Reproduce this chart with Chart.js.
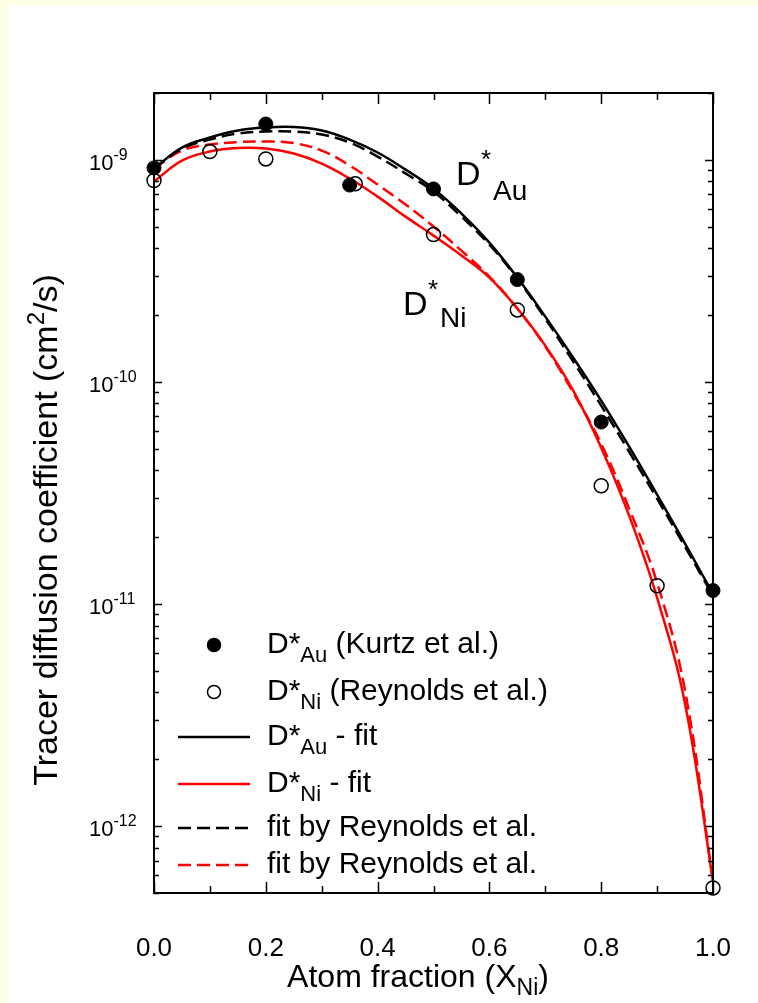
<!DOCTYPE html>
<html>
<head>
<meta charset="utf-8">
<title>Tracer diffusion coefficients in Au–Ni</title>
<script src="https://cdn.jsdelivr.net/npm/chart.js@4.4.1/dist/chart.umd.min.js"></script>
<style>
  html, body { margin: 0; padding: 0; background: #ffffff; }
  canvas { display: block; }
</style>
</head>
<body>
<canvas id="chart" width="758" height="1003"></canvas>
<script>
// ---- data ---------------------------------------------------------------
// measured tracer diffusion coefficients (cm^2/s) vs atom fraction X_Ni
const auKurtzX = [0.0, 0.2, 0.35, 0.5, 0.65, 0.8, 1.0];
const auKurtzD = [9.2e-10, 1.45e-9, 7.7e-10, 7.4e-10, 2.89e-10, 6.6e-11, 1.15e-11];

const niReynoldsX = [0.0, 0.1, 0.2, 0.36, 0.5, 0.65, 0.8, 0.9, 1.0];
const niReynoldsD = [8.07e-10, 1.09e-9, 1.01e-9, 7.8e-10, 4.61e-10, 2.11e-10, 3.41e-11, 1.21e-11, 5.27e-13];

// fitted curves, sampled every 0.05 in X_Ni
const fitX = [0.0, 0.05, 0.1, 0.15, 0.2, 0.25, 0.3, 0.35, 0.4, 0.45, 0.5,
              0.55, 0.6, 0.65, 0.7, 0.75, 0.8, 0.85, 0.9, 0.95, 1.0];
const auFit = [9.14e-10, 1.136e-9, 1.26e-9, 1.355e-9, 1.398e-9, 1.405e-9, 1.355e-9, 1.234e-9, 1.079e-9, 9.04e-10, 7.42e-10,
               5.73e-10, 4.24e-10, 2.95e-10, 1.968e-10, 1.286e-10, 8.24e-11, 5.11e-11, 3.11e-11, 1.869e-11, 1.112e-11];
const niFit = [7.99e-10, 9.93e-10, 1.09e-9, 1.13e-9, 1.124e-9, 1.068e-9, 9.62e-10, 8.24e-10, 6.83e-10, 5.55e-10, 4.56e-10,
               3.71e-10, 2.95e-10, 2.14e-10, 1.457e-10, 9.14e-11, 5.06e-11, 2.5e-11, 1.068e-11, 3.56e-12, 5.67e-13];
const auFitReynolds = [9.14e-10, 1.124e-9, 1.234e-9, 1.314e-9, 1.341e-9, 1.341e-9, 1.301e-9, 1.196e-9, 1.035e-9, 8.68e-10, 7.2e-10,
                       5.55e-10, 4.15e-10, 2.92e-10, 1.928e-10, 1.234e-10, 7.82e-11, 4.85e-11, 2.98e-11, 1.81e-11, 1.09e-11];
const niFitReynolds = [9.14e-10, 1.101e-9, 1.172e-9, 1.203e-9, 1.209e-9, 1.19e-9, 1.101e-9, 9.43e-10, 7.74e-10, 6.29e-10, 5.01e-10,
                       3.9e-10, 2.98e-10, 2.14e-10, 1.442e-10, 8.95e-11, 5.27e-11, 2.69e-11, 1.247e-11, 4.07e-12, 5.67e-13];

// axis ticks
const xTickValues = [0.0, 0.2, 0.4, 0.6, 0.8, 1.0];
const xTickLabels = ['0.0', '0.2', '0.4', '0.6', '0.8', '1.0'];
const yDecadeExponents = [-9, -10, -11, -12];

// ---- styling ----------------------------------------------------------------
const FONT = '"Liberation Sans", Arial, Helvetica, sans-serif';
const RED = '#ff0000';
const BLACK = '#000000';
const DASH = [13, 6];

const toPoints = (xs, ys) => xs.map((x, i) => ({ x: x, y: ys[i] }));

// text runs made of pieces: [text, fontSize, baselineShift]
function richWidth(ctx, parts) {
  let w = 0;
  parts.forEach(p => { ctx.font = p[1] + 'px ' + FONT; w += ctx.measureText(p[0]).width; });
  return w;
}
function drawRich(ctx, x, y, parts, align) {
  let cx = align === 'center' ? x - richWidth(ctx, parts) / 2 : x;
  parts.forEach(p => {
    ctx.font = p[1] + 'px ' + FONT;
    ctx.fillText(p[0], cx, y + (p[2] || 0));
    cx += ctx.measureText(p[0]).width;
  });
}

const frame = {
  id: 'frame',
  beforeDraw(chart) {
    const ctx = chart.ctx;
    ctx.save();
    ctx.fillStyle = '#ffffff';
    ctx.fillRect(0, 0, chart.width, chart.height);
    ctx.fillStyle = '#ffffe6';
    ctx.fillRect(0, 0, chart.width, 5);
    ctx.fillRect(0, 0, 8, chart.height);
    ctx.restore();
  },
  afterDraw(chart) {
    const ctx = chart.ctx;
    const a = chart.chartArea;
    const xs = chart.scales.x;
    const ys = chart.scales.y;
    ctx.save();
    ctx.strokeStyle = BLACK;
    ctx.fillStyle = BLACK;

    // plot frame
    ctx.lineWidth = 2;
    ctx.strokeRect(a.left, a.top, a.right - a.left, a.bottom - a.top);

    // x ticks (inward, bottom and top)
    ctx.lineWidth = 1.5;
    ctx.beginPath();
    for (let i = 0; i <= 10; i++) {
      const px = Math.round(xs.getPixelForValue(i / 10)) + 0.5;
      const len = i % 2 === 0 ? 11 : 7;
      ctx.moveTo(px, a.bottom); ctx.lineTo(px, a.bottom - len);
      ctx.moveTo(px, a.top); ctx.lineTo(px, a.top + len);
    }
    // y ticks (log decades with 2..9 minors, inward on both sides)
    for (let e = -13; e <= -9; e++) {
      for (let m = 1; m <= 9; m++) {
        const v = m * Math.pow(10, e);
        if (v < ys.min * 0.999 || v > ys.max * 1.001) continue;
        const py = Math.round(ys.getPixelForValue(v)) + 0.5;
        const len = m === 1 ? 8 : 5;
        ctx.moveTo(a.left, py); ctx.lineTo(a.left + len, py);
        ctx.moveTo(a.right, py); ctx.lineTo(a.right - len, py);
      }
    }
    ctx.stroke();

    // x tick labels
    ctx.textBaseline = 'alphabetic';
    ctx.font = '26px ' + FONT;
    ctx.textAlign = 'center';
    xTickValues.forEach((v, i) => {
      ctx.fillText(xTickLabels[i], xs.getPixelForValue(v), 956);
    });
    ctx.textAlign = 'left';

    // y tick labels: 10 with superscript exponent
    yDecadeExponents.forEach(e => {
      const py = ys.getPixelForValue(Math.pow(10, e));
      drawRich(ctx, 89, py + 10, [['10', 22, 0], [String(e), 16, -10]], 'left');
    });

    // axis titles
    drawRich(ctx, 418, 987, [['Atom fraction (X', 32, 0], ['Ni', 23, 8], [')', 32, 0]], 'center');
    ctx.save();
    ctx.translate(57, 530);
    ctx.rotate(-Math.PI / 2);
    drawRich(ctx, 0, 0, [['Tracer diffusion coefficient (cm', 34, 0], ['2', 24, -13], ['/s)', 34, 0]], 'center');
    ctx.restore();

    // curve labels
    drawRich(ctx, 456, 185, [['D', 34, 0]], 'left');
    drawRich(ctx, 481, 185, [['*', 26, -17]], 'left');
    drawRich(ctx, 493, 185, [['Au', 28, 15]], 'left');
    drawRich(ctx, 403, 315, [['D', 34, 0]], 'left');
    drawRich(ctx, 428, 315, [['*', 26, -17]], 'left');
    drawRich(ctx, 440, 315, [['Ni', 28, 12]], 'left');

    // legend
    const lx0 = 178, lx1 = 250, mx = 214, tx = 267;
    const rows = [
      { y: 645, kind: 'dot', fill: BLACK, text: [['D*', 30, 0], ['Au', 22, 9], [' (Kurtz et al.)', 30, 0]] },
      { y: 692, kind: 'dot', fill: '#ffffff', text: [['D*', 30, 0], ['Ni', 22, 9], [' (Reynolds et al.)', 30, 0]] },
      { y: 737, kind: 'line', color: BLACK, dash: [], text: [['D*', 30, 0], ['Au', 22, 9], [' - fit', 30, 0]] },
      { y: 784, kind: 'line', color: RED, dash: [], text: [['D*', 30, 0], ['Ni', 22, 9], [' - fit', 30, 0]] },
      { y: 828, kind: 'line', color: BLACK, dash: DASH, text: [['fit by Reynolds et al.', 30, 0]] },
      { y: 865, kind: 'line', color: RED, dash: DASH, text: [['fit by Reynolds et al.', 30, 0]] }
    ];
    rows.forEach(r => {
      if (r.kind === 'dot') {
        ctx.beginPath();
        ctx.arc(mx, r.y, 6.5, 0, Math.PI * 2);
        ctx.fillStyle = r.fill;
        ctx.fill();
        ctx.lineWidth = 1.5;
        ctx.strokeStyle = BLACK;
        ctx.stroke();
      } else {
        ctx.beginPath();
        ctx.setLineDash(r.dash);
        ctx.lineWidth = 2.5;
        ctx.strokeStyle = r.color;
        ctx.moveTo(lx0, r.y); ctx.lineTo(lx1, r.y);
        ctx.stroke();
        ctx.setLineDash([]);
      }
      ctx.fillStyle = BLACK;
      drawRich(ctx, tx, r.y + 8, r.text, 'left');
    });
    ctx.restore();
  }
};

const lineStyle = (color, dash) => ({
  showLine: true, borderColor: color, borderWidth: 2.5, borderDash: dash,
  pointRadius: 0, tension: 0.4, fill: false, clip: false, order: 1
});

new Chart(document.getElementById('chart').getContext('2d'), {
  type: 'scatter',
  data: {
    datasets: [
      { label: 'D*Au (Kurtz et al.)', data: toPoints(auKurtzX, auKurtzD), showLine: false,
        pointRadius: 7, pointBackgroundColor: BLACK, pointBorderColor: BLACK, pointBorderWidth: 1,
        clip: false, order: 0 },
      { label: 'D*Ni (Reynolds et al.)', data: toPoints(niReynoldsX, niReynoldsD), showLine: false,
        pointRadius: 7, pointBackgroundColor: 'rgba(255,255,255,0)', pointBorderColor: BLACK, pointBorderWidth: 1.5,
        clip: false, order: 0 },
      Object.assign({ label: 'D*Au - fit', data: toPoints(fitX, auFit) }, lineStyle(BLACK, [])),
      Object.assign({ label: 'D*Ni - fit', data: toPoints(fitX, niFit) }, lineStyle(RED, [])),
      Object.assign({ label: 'fit by Reynolds et al. (Au)', data: toPoints(fitX, auFitReynolds) }, lineStyle(BLACK, DASH)),
      Object.assign({ label: 'fit by Reynolds et al. (Ni)', data: toPoints(fitX, niFitReynolds) }, lineStyle(RED, DASH))
    ]
  },
  options: {
    responsive: false,
    animation: false,
    devicePixelRatio: 1,
    layout: { padding: { left: 154, top: 93, right: 45, bottom: 110 } },
    scales: {
      x: { type: 'linear', min: 0, max: 1, display: false },
      y: { type: 'logarithmic', min: 5e-13, max: 2e-9, display: false }
    },
    plugins: { legend: { display: false }, tooltip: { enabled: false } },
    events: []
  },
  plugins: [frame]
});
</script>
</body>
</html>
